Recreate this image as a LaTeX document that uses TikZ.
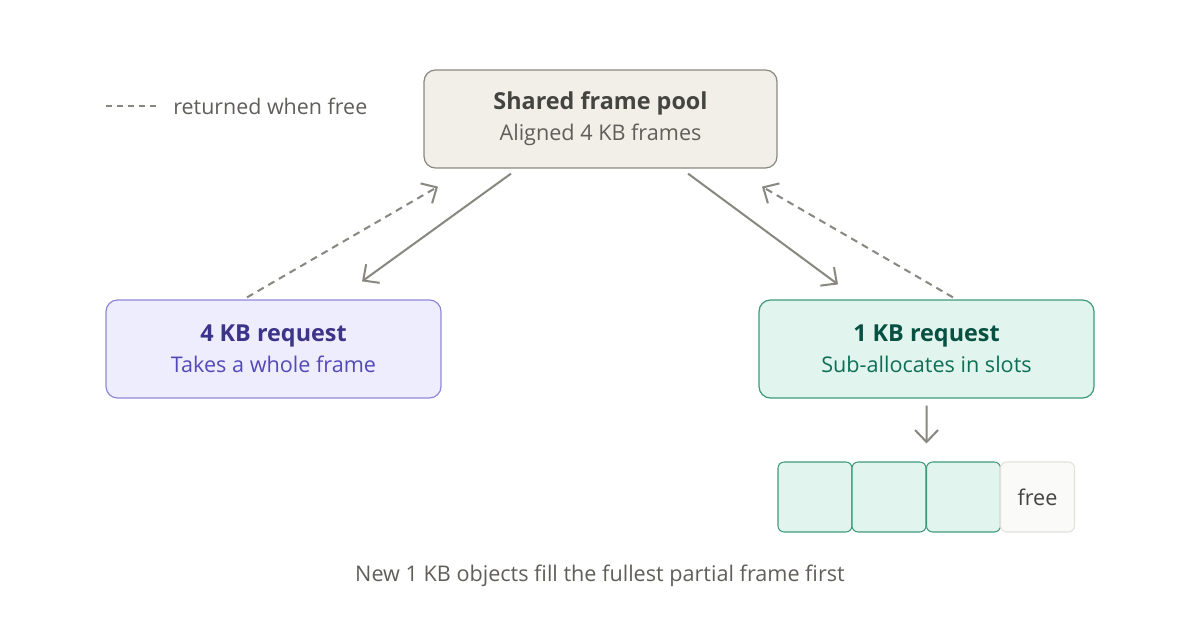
\documentclass[tikz,border=0pt]{standalone}
\usepackage{fontspec}
\setmainfont{Open Sans}
\usetikzlibrary{arrows.meta}

\definecolor{poolfill}{HTML}{F1EFE8}
\definecolor{poolline}{HTML}{8A8881}
\definecolor{pooltext}{HTML}{444441}
\definecolor{poolsub}{HTML}{5F5E5A}
\definecolor{purpfill}{HTML}{EEEDFE}
\definecolor{purpline}{HTML}{8F88D8}
\definecolor{purptext}{HTML}{3C3489}
\definecolor{purpsub}{HTML}{534AB7}
\definecolor{grnfill}{HTML}{E1F5EE}
\definecolor{grnline}{HTML}{3E9A7A}
\definecolor{grntext}{HTML}{085041}
\definecolor{grnsub}{HTML}{0F6E56}
\definecolor{freefill}{HTML}{FAFAF8}
\definecolor{freeline}{HTML}{E3E1DB}
\definecolor{arrowgray}{HTML}{888780}

\tikzset{
  box/.style={draw, rounded corners=6.5pt, line width=0.7pt, minimum width=6.7cm,
    minimum height=1.96cm, align=center, font=\fontsize{12.3}{17.5}\selectfont},
  slot/.style={draw=grnline, fill=grnfill, rounded corners=3.5pt, line width=0.6pt,
    minimum width=1.48cm, minimum height=1.4cm},
  flow/.style={draw=arrowgray, line width=1.15pt, -{Straight Barb[length=2.4mm,width=4.6mm]}},
  back/.style={flow, dash pattern=on 4pt off 3pt}
}

\begin{document}
\begin{tikzpicture}[x=0.02cm, y=-0.02cm]
			%%%%% START %%%%%
			\useasboundingbox (0, 0) rectangle (1200, 635);
			
			% legend
			\coordinate (legA) at (106, 106);
			\coordinate (legB) at (160, 106);
			\draw[draw=arrowgray, line width=0.75pt, dash pattern=on 3.6pt off 2.6pt] (legA) -- (legB);
			\node[anchor=west, inner sep=0pt, text=poolsub, font=\fontsize{12.2}{14}\selectfont] (legtxt) at (173, 106) {returned when free};
			
			% boxes
			\node[box, fill=poolfill, draw=poolline, minimum width=7.06cm] (pool) at (600.5, 119)
				{{\fontsize{13.3}{17.5}\selectfont\bfseries\color{pooltext}Shared frame pool}\\{\color{poolsub}Aligned 4 KB frames}};
			\node[box, fill=purpfill, draw=purpline] (big) at (273.5, 349)
				{{\fontsize{13.3}{17.5}\selectfont\bfseries\color{purptext}4 KB request}\\{\color{purpsub}Takes a whole frame}};
			\node[box, fill=grnfill, draw=grnline] (small) at (926.5, 349)
				{{\fontsize{13.3}{17.5}\selectfont\bfseries\color{grntext}1 KB request}\\{\color{grnsub}Sub-allocates in slots}};
			
			% slots
			\node[slot] (s1) at (815, 497) {};
			\node[slot] (s2) at (889, 497) {};
			\node[slot] (s3) at (963.5, 497) {};
			\node[slot, draw=freeline, fill=freefill, text=pooltext, font=\fontsize{12.3}{14}\selectfont] (sfree) at (1037.5, 497) {free};
			
			% arrows
			\draw[flow] ([shift={(-89.5, 5)}]pool.south) -- ([shift={(88.5, -18)}]big.north);
			\draw[back] ([shift={(-26.5, -2)}]big.north) -- ([shift={(-162.5, 18)}]pool.south);
			\draw[flow] ([shift={(87.5, 5)}]pool.south) -- ([shift={(-88.5, -15)}]small.north);
			\draw[back] ([shift={(26.5, -2)}]small.north) -- ([shift={(161.5, 18)}]pool.south);
			\draw[flow] ([shift={(0, 7)}]small.south) -- ([shift={(0, -18)}]s2.north east);
			
			% caption
			\node[text=poolsub, font=\fontsize{12.3}{14}\selectfont] (caption) at (600, 576) {New 1 KB objects fill the fullest partial frame first};
			%%%%% END %%%%%
\end{tikzpicture}
\end{document}
